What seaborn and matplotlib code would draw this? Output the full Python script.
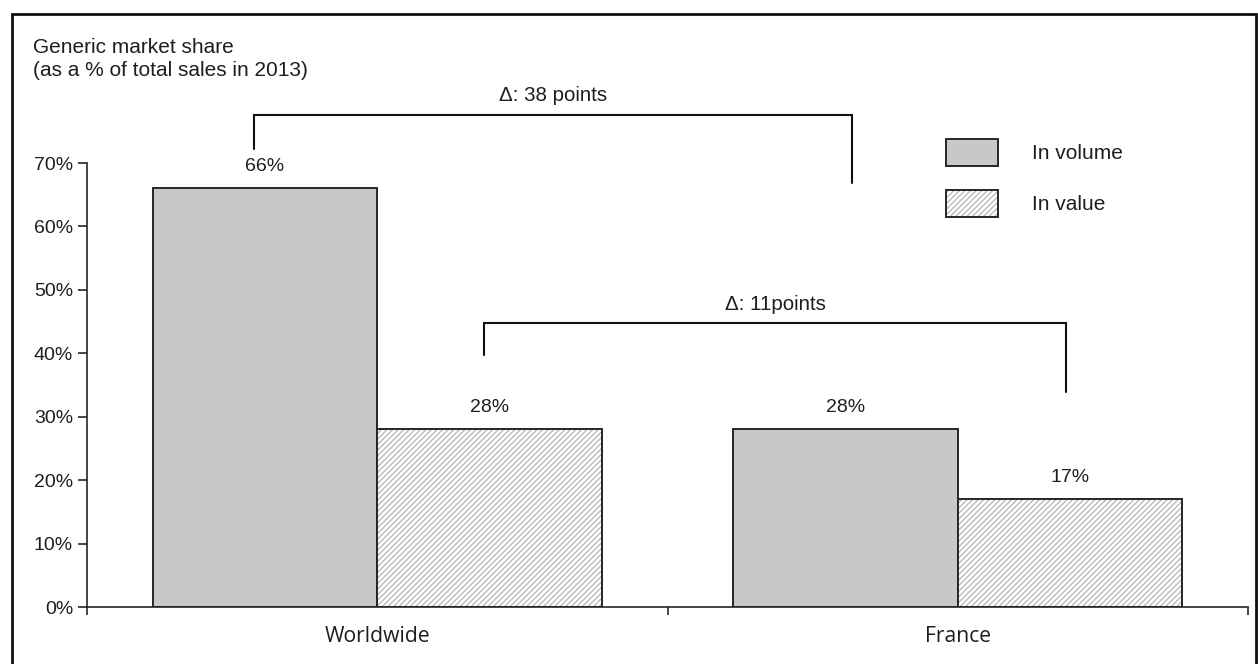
import matplotlib
matplotlib.use("Agg")
import matplotlib.pyplot as plt
from matplotlib.patches import Patch, Rectangle
from matplotlib.legend_handler import HandlerTuple
import pandas as pd
import seaborn as sns

# ---- data ----
regions = ["Worldwide", "France"]
measures = ["In volume", "In value"]
share_volume = [66, 28]
share_value = [28, 17]
y_ticks = [0, 10, 20, 30, 40, 50, 60, 70]
y_tick_labels = ["0%", "10%", "20%", "30%", "40%", "50%", "60%", "70%"]
title_lines = ["Generic market share", "(as a % of total sales in 2013)"]
gap_texts = ["\u0394: 38 points", "\u0394: 11points"]

df = pd.DataFrame({
    "region": regions * 2,
    "measure": [measures[0]] * 2 + [measures[1]] * 2,
    "share": share_volume + share_value,
})

sns.set_theme(style="white")
plt.rcParams["font.family"] = ["Liberation Sans", "DejaVu Sans"]
plt.rcParams["hatch.linewidth"] = 0.9

TEXT = "#1e1e1e"
EDGE = "#262626"
FILL = "#c8c8ca"
HATCH = "#b4b4b4"
FS = 14

W, H = 1258, 664
fig = plt.figure(figsize=(W / 100, H / 100), dpi=100)
ax = fig.add_axes([87 / W, 1 - 607 / H, (1248 - 87) / W, (607 - 163) / H])

sns.barplot(data=df, x="region", y="share", hue="measure", order=regions,
            hue_order=measures, palette=[FILL, "white"], width=0.774,
            dodge=True, legend=False, ax=ax, saturation=1,
            edgecolor=EDGE, linewidth=1.4)

# patches come out grouped by hue: volume bars first, then value bars
bars = list(ax.patches)
vol_bars, val_bars = bars[:2], bars[2:]
for b in val_bars:
    b.set_facecolor("white")
    b.set_edgecolor(HATCH)
    b.set_linewidth(0)
    b.set_hatch("//////")
    ax.add_patch(Rectangle((b.get_x(), b.get_y()), b.get_width(), b.get_height(),
                           fill=False, edgecolor=EDGE, linewidth=1.4,
                           zorder=b.get_zorder() + 0.1))

# value labels above bars
for b in vol_bars + val_bars:
    h = b.get_height()
    ax.annotate(f"{h:.0f}%", (b.get_x() + b.get_width() / 2, h),
                xytext=(0, 15.5), textcoords="offset points", ha="center",
                va="center", fontsize=FS, color=TEXT, annotation_clip=False)

ax.set_ylim(0, 70)
ax.set_xlim(-0.5, 1.5)
ax.set_yticks(y_ticks)
ax.set_yticklabels(y_tick_labels)
ax.set_xticks([-0.5, 0.5, 1.5])
ax.set_xticklabels([])
ax.set_xticks([0, 1], minor=True)
ax.set_xticklabels(regions, minor=True, fontfamily=["Open Sans", "DejaVu Sans"])
ax.tick_params(axis="x", which="major", direction="out", length=6, width=1.2,
               color=EDGE, bottom=True)
ax.tick_params(axis="x", which="minor", length=0, pad=14, labelsize=15.2,
               labelcolor=TEXT)
ax.tick_params(axis="y", direction="out", length=6.5, width=1.2, color=EDGE,
               left=True, labelsize=FS, labelcolor=TEXT, pad=3.5)
ax.set_xlabel("")
ax.set_ylabel("")
sns.despine(ax=ax)
for s in ("left", "bottom"):
    ax.spines[s].set_color(EDGE)
    ax.spines[s].set_linewidth(1.2)


def bracket(x0, x1, y_left, y_top, y_right, text, ty):
    """Draw a difference bracket with its caption above."""
    ax.plot([x0, x0, x1, x1], [y_left, y_top, y_top, y_right], color="#111111",
            lw=1.5, clip_on=False, solid_joinstyle="miter")
    ax.text((x0 + x1) / 2, ty, text, ha="center", va="center", fontsize=14.8,
            color=TEXT, clip_on=False)


bracket(-0.213, 0.818, 72.2, 77.6, 66.9, gap_texts[0], 80.7)
bracket(0.184, 1.187, 39.7, 44.8, 33.9, gap_texts[1], 47.7)

# title (two lines placed by baseline)
for line, base in zip(title_lines, [53, 76]):
    fig.text(33 / W, 1 - base / H, line, ha="left", va="baseline",
             fontsize=15, color=TEXT)

# legend
LFS = 15
lpx = LFS * 100 / 72
h_vol = Patch(facecolor=FILL, edgecolor=EDGE, linewidth=1.4)
h_val_hatch = Patch(facecolor="white", edgecolor=HATCH, linewidth=0, hatch="//////")
h_val_edge = Patch(facecolor="none", edgecolor=EDGE, linewidth=1.4)
leg = ax.legend([h_vol, (h_val_hatch, h_val_edge)], measures,
                handler_map={tuple: HandlerTuple(ndivide=1, pad=0)},
                loc="upper left", bbox_to_anchor=(946 / W, 1 - 139 / H),
                bbox_transform=fig.transFigure, frameon=False,
                handlelength=52 / lpx, handleheight=1.617,
                handletextpad=34 / lpx, labelspacing=24 / lpx,
                borderpad=0, borderaxespad=0, fontsize=LFS)
for t in leg.get_texts():
    t.set_color(TEXT)

# outer frame
fig.add_artist(Rectangle((12 / W, -0.05), (1256 - 12) / W, 1.05 - 14 / H,
                         transform=fig.transFigure, fill=False,
                         edgecolor="#111111", linewidth=2.0))

fig.savefig("out.png", dpi=100)
